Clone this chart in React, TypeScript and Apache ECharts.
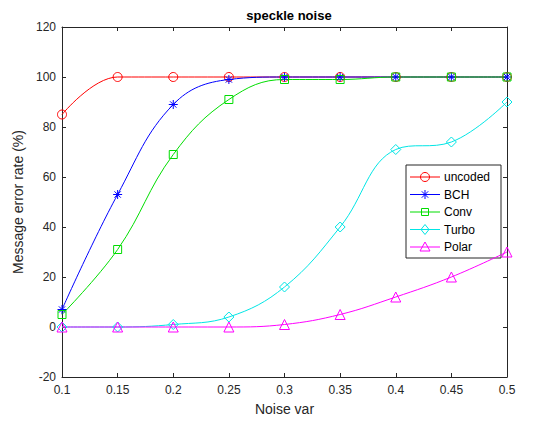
import React, { useEffect, useRef } from "react";
import * as echarts from "echarts";

const xValues = [0.1, 0.15, 0.2, 0.25, 0.3, 0.35, 0.4, 0.45, 0.5];
const uncoded = [85, 100, 100, 100, 100, 100, 100, 100, 100];
const bch = [7, 53, 89, 99, 100, 100, 100, 100, 100];
const conv = [5, 31, 69, 91, 99, 99, 100, 100, 100];
const turbo = [0, 0, 1, 4, 16, 40, 71, 74, 90];
const polar = [0, 0, 0, 0, 1, 5, 12, 20, 30];
const seriesNames = ["uncoded", "BCH", "Conv", "Turbo", "Polar"];
const seriesData = [uncoded, bch, conv, turbo, polar];
const seriesColors = ["#ff0000", "#0000ff", "#00dd00", "#00e5e5", "#ff00ff"];
const seriesSymbols = ["circle", "asterisk", "rect", "diamond", "triangle"];

const FONT = "Liberation Sans, Arial, sans-serif";
const TXT = "#262626";

const asteriskPath =
  "path://M5,0L5,10M0,5L10,5M1.5,1.5L8.5,8.5M1.5,8.5L8.5,1.5";

function legendMarker(kind: string, cx: number, cy: number, color: string): any {
  const style = { fill: "none", stroke: color, lineWidth: 1 };
  switch (kind) {
    case "circle":
      return { type: "circle", shape: { cx, cy, r: 4.5 }, style };
    case "rect":
      return { type: "rect", shape: { x: cx - 3.5, y: cy - 3.5, width: 7, height: 7 }, style };
    case "diamond":
      return {
        type: "polygon",
        shape: { points: [[cx, cy - 5], [cx + 4, cy], [cx, cy + 5], [cx - 4, cy]] },
        style,
      };
    case "triangle":
      return {
        type: "polygon",
        shape: { points: [[cx, cy - 5], [cx + 5, cy + 4], [cx - 5, cy + 4]] },
        style,
      };
    default: {
      const r = 4.5;
      const d = 3.2;
      const segs = [
        [cx - r, cy, cx + r, cy],
        [cx, cy - r, cx, cy + r],
        [cx - d, cy - d, cx + d, cy + d],
        [cx - d, cy + d, cx + d, cy - d],
      ];
      return {
        type: "group",
        children: segs.map((s) => ({
          type: "line",
          shape: { x1: s[0], y1: s[1], x2: s[2], y2: s[3] },
          style: { stroke: color, lineWidth: 1 },
        })),
      };
    }
  }
}

export default function App() {
  const ref = useRef<HTMLDivElement>(null);
  useEffect(() => {
    if (!ref.current) return;
    const chart = echarts.init(ref.current, undefined, { renderer: "svg" });
    const symbolFor = (s: string) => (s === "asterisk" ? asteriskPath : s);
    const sizeFor = (s: string) => (s === "rect" ? 8 : s === "circle" || s === "asterisk" ? 9 : 10);
    const series = seriesNames.map((name, k) => ({
      name,
      type: "line",
      data: seriesData[k].map((v, i) => [xValues[i], v]),
      smooth: 0.4,
      symbol: symbolFor(seriesSymbols[k]),
      symbolSize: sizeFor(seriesSymbols[k]),
      showAllSymbol: true,
      lineStyle: { color: seriesColors[k], width: 1 },
      itemStyle: { color: "rgba(255,255,255,0)", borderColor: seriesColors[k], borderWidth: 1 },
      emphasis: { disabled: true },
      z: 3,
    }));

    const lx = 406, ly = 165, lw = 95, lh = 93;
    const rowY0 = 177, rowGap = 17.5;
    const legendChildren: any[] = [
      {
        type: "rect",
        shape: { x: lx, y: ly, width: lw, height: lh },
        style: { fill: "#fff", stroke: "#262626", lineWidth: 1 },
      },
    ];
    seriesNames.forEach((name, k) => {
      const y = rowY0 + k * rowGap;
      legendChildren.push({
        type: "line",
        shape: { x1: 410, y1: y, x2: 440, y2: y },
        style: { stroke: seriesColors[k], lineWidth: 1 },
      });
      legendChildren.push(legendMarker(seriesSymbols[k], 425, y, seriesColors[k]));
      legendChildren.push({
        type: "text",
        x: 444,
        y,
        style: {
          text: name,
          fill: "#000",
          font: `12px ${FONT}`,
          verticalAlign: "middle",
        },
      });
    });

    const axisCommon = {
      axisLine: { show: true, onZero: false, lineStyle: { color: "#262626", width: 1 } },
      axisTick: { show: true, inside: true, length: 4, lineStyle: { color: "#262626" } },
      splitLine: { show: false },
    };
    chart.setOption({
      animation: false,
      backgroundColor: "#fff",
      title: {
        text: "speckle noise",
        left: 284,
        textAlign: "center",
        top: 4,
        textStyle: { fontFamily: FONT, fontSize: 13, fontWeight: "bold", color: "#000" },
      },
      grid: { left: 62, right: 33, top: 27, bottom: 48 },
      xAxis: [
        {
          type: "value",
          min: 0.1,
          max: 0.5,
          interval: 0.05,
          position: "bottom",
          name: "Noise var",
          nameLocation: "middle",
          nameGap: 25,
          nameTextStyle: { fontFamily: FONT, fontSize: 14, color: TXT },
          axisLabel: {
            fontFamily: FONT,
            fontSize: 12,
            color: TXT,
            margin: 7,
            formatter: (v: number) => String(+v.toFixed(2)),
          },
          ...axisCommon,
        },
        {
          type: "value",
          min: 0.1,
          max: 0.5,
          interval: 0.05,
          position: "top",
          axisLabel: { show: false },
          ...axisCommon,
        },
      ],
      yAxis: [
        {
          type: "value",
          min: -20,
          max: 120,
          interval: 20,
          position: "left",
          name: "Message error rate (%)",
          nameLocation: "middle",
          nameGap: 33,
          nameTextStyle: { fontFamily: FONT, fontSize: 14, color: TXT },
          axisLabel: { fontFamily: FONT, fontSize: 12, color: TXT, margin: 6 },
          ...axisCommon,
        },
        {
          type: "value",
          min: -20,
          max: 120,
          interval: 20,
          position: "right",
          axisLabel: { show: false },
          ...axisCommon,
        },
      ],
      graphic: [{ type: "group", z: 100, children: legendChildren }],
      series,
    });
    return () => chart.dispose();
  }, []);
  return <div ref={ref} style={{ width: 540, height: 425, margin: -8 }} />;
}
